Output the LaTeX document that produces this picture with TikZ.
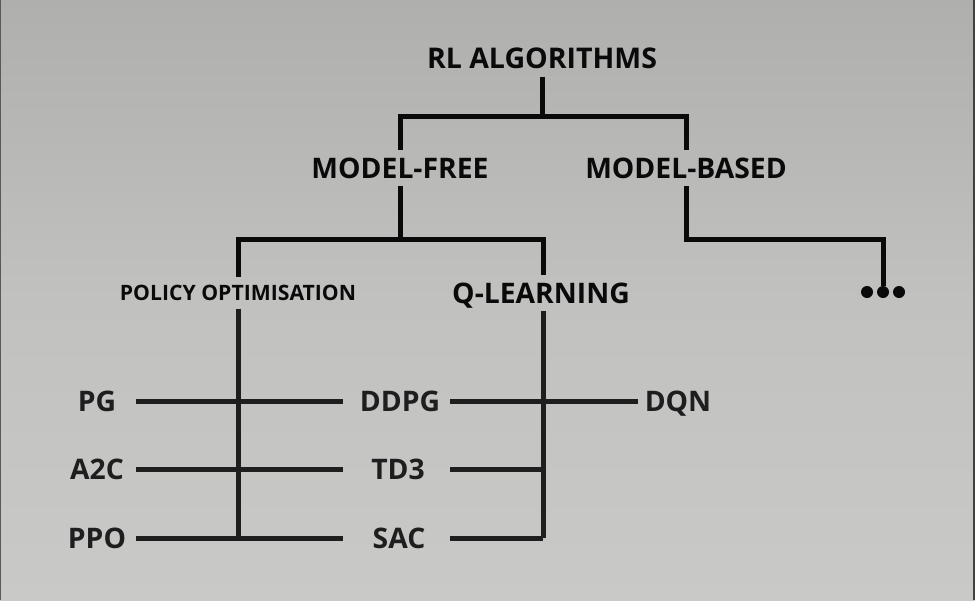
\documentclass[tikz,border=0pt]{standalone}
\usepackage{fontspec}
\setmainfont{Open Sans}
\usepackage{tikz}
\usetikzlibrary{positioning}
\definecolor{inktop}{HTML}{0A0A0A}
\definecolor{inklow}{HTML}{1E1E1E}
\definecolor{bgtop}{HTML}{AFAFAE}
\definecolor{bgmid}{HTML}{C1C1C0}
\definecolor{bgbot}{HTML}{C9C9C8}
\tikzset{
  head/.style = {font=\bfseries\fontsize{28.5}{30}\selectfont, text=inktop, inner xsep=0pt, inner ysep=8pt, text height=21pt, text depth=0pt},
  big/.style = {font=\bfseries\fontsize{28.3}{30}\selectfont, text=inktop, inner xsep=0pt, inner ysep=8pt, text height=20pt, text depth=0pt},
  small/.style = {font=\bfseries\fontsize{21.2}{23}\selectfont, text=inktop, inner xsep=0pt, inner ysep=8pt, text height=15pt, text depth=0pt},
  algo/.style = {big, text=inklow},
  line/.style = {draw=inktop, line width=5pt},
  lowline/.style = {draw=inklow, line width=5pt}
}

\begin{document}
\begin{tikzpicture}[x=1pt, y=-1pt]
	\shade[top color=bgtop, bottom color=bgmid] (0,0) rectangle (975,300);
	\shade[top color=bgmid, bottom color=bgbot] (0,300) rectangle (975,600);
	\fill [gray!70!black] (0,0) rectangle (1.2,600);
	\fill [gray!50!black] (973,0) rectangle (975,600);
	\useasboundingbox (0,0) rectangle (975,600);

	\node [head] (rl) at (542, 58) {RL ALGORITHMS};
	\node [big] (mf) at (400, 168) {MODEL-FREE};
	\node [big] (mb) at (686, 168) {MODEL-BASED};
	\node [small] (pol) at (238, 293) {POLICY OPTIMISATION};
	\node [big] (ql) at (541, 293) {Q-LEARNING};
	\node [minimum width=44pt, minimum height=12pt, inner sep=0pt] (more) at (883, 292) {};
	\foreach \dx in {-16, 0, 16}
		\fill [inktop] ([xshift=\dx pt]more.center) circle (6pt);

	\node [algo] (pg) at (97, 401) {PG};
	\node [algo] (a2c) at (97, 469) {A2C};
	\node [algo] (ppo) at (97, 538) {PPO};
	\node [algo] (ddpg) at (400, 401) {DDPG};
	\node [algo] (td3) at (398, 469) {TD3};
	\node [algo] (sac) at (399, 538) {SAC};
	\node [algo] (dqn) at (678, 401) {DQN};

	\path [line] (rl.south) -- ++(0, 39.5) coordinate (rlj);
	\path [line] (mf.north) |- (rlj) -| (mb.north);
	\path [line] (mf.south) -- ++(0, 53) coordinate (mfj);
	\path [line] (pol.north) |- (mfj) -| ([xshift=2pt]ql.north);
	\path [line] (mb.south) -- ++(0, 53) -| (more.north);

	\path [lowline] (pol.south) -- (pol.south |- ppo.center);
	\path [lowline] ([xshift=2pt]ql.south) -- ([xshift=2pt]ql.south |- sac.center);
	\path [lowline] ([xshift=39pt]pg.center) -- ([xshift=-57pt]ddpg.center);
	\path [lowline] ([xshift=39pt]a2c.center) -- ([xshift=-55pt]td3.center);
	\path [lowline] ([xshift=39pt]ppo.center) -- ([xshift=-56pt]sac.center);
	\path [lowline] ([xshift=50pt]ddpg.center) -- ([xshift=-40pt]dqn.center);
	\path [lowline] ([xshift=52pt]td3.center) -- ([xshift=2pt]ql.south |- td3.center);
	\path [lowline] ([xshift=51pt]sac.center) -- ([xshift=2pt]ql.south |- sac.center);
\end{tikzpicture}
\end{document}
